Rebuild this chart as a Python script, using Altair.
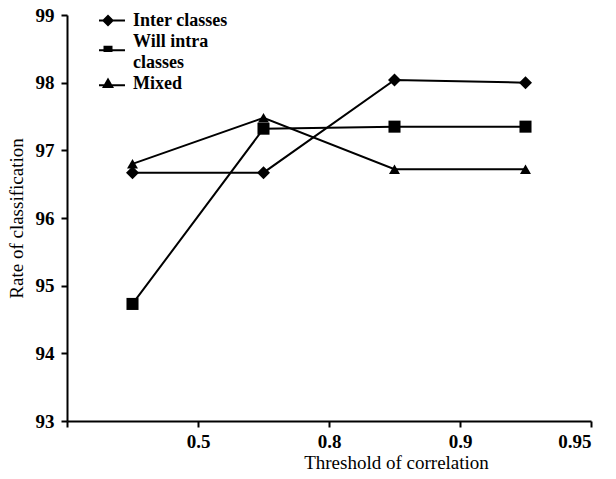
import altair as alt
import pandas as pd

# ---- data ----
thresholds = ["0.5", "0.8", "0.9", "0.95"]
series_names = ["Inter classes", "Will intra classes", "Mixed"]
inter_classes = [96.67, 96.67, 98.04, 98.00]
will_intra = [94.73, 97.32, 97.35, 97.35]
mixed = [96.80, 97.48, 96.72, 96.72]

# legend rows as printed in the reference (second name wraps onto two lines)
legend_entries = ["Inter classes", "Will intra", "\u00a0classes", "Mixed"]

rows = []
for name, vals in zip(series_names, [inter_classes, will_intra, mixed]):
    for i, (t, v) in enumerate(zip(thresholds, vals)):
        # markers sit in the middle of each category band, tick labels at band ends
        rows.append({"series": name, "threshold": t, "pos": i + 0.5, "rate": v})
df = pd.DataFrame(rows)
legend_df = pd.DataFrame({"entry": legend_entries})

n_cat = len(thresholds)
label_list = "['', " + ", ".join(f"'{t}'" for t in thresholds) + "]"

FONT = "Liberation Serif"

x_enc = alt.X(
    "pos:Q",
    scale=alt.Scale(domain=[0, n_cat], nice=False, zero=False),
    axis=alt.Axis(
        values=list(range(n_cat + 1)),
        labelExpr=f"{label_list}[datum.value]",
        title="Threshold of correlation",
        titleFont=FONT, titleFontSize=19, titleFontWeight="normal",
        titleX=329, titleY=47, titleBaseline="alphabetic",
        labelFont=FONT, labelFontSize=19, labelFontWeight="bold",
        labelColor="black", titleColor="black",
        domainColor="black", domainWidth=2, tickColor="black", tickWidth=2,
        tickSize=6, labelPadding=5, grid=False,
    ),
)
y_enc = alt.Y(
    "rate:Q",
    scale=alt.Scale(domain=[93, 99], nice=False, zero=False),
    axis=alt.Axis(
        values=[93, 94, 95, 96, 97, 98, 99],
        title="Rate of classification",
        titleFont=FONT, titleFontSize=19, titleFontWeight="normal",
        titlePadding=9,
        labelFont=FONT, labelFontSize=19, labelFontWeight="bold",
        labelColor="black", titleColor="black",
        domainColor="black", domainWidth=2, tickColor="black", tickWidth=2,
        tickSize=6, labelPadding=7, grid=False,
    ),
)

lines = alt.Chart(df).mark_line(color="black", strokeWidth=2).encode(
    x=x_enc, y=y_enc, detail="series:N", order="pos:Q"
)

points = alt.Chart(df).mark_point(filled=True, color="black", opacity=1).encode(
    x=x_enc, y=y_enc,
    shape=alt.Shape("series:N", scale=alt.Scale(domain=series_names,
                                                range=["diamond", "square", "triangle-up"]),
                    legend=None),
    size=alt.Size("series:N", scale=alt.Scale(domain=series_names, range=[170, 120, 150]),
                  legend=None),
)

# legend glyphs: a short filled bar with the marker on it (unit = 6 px)
BAR = "M-2.83,{a}L2.83,{a}L2.83,{b}L-2.83,{b}Z"
legend_paths = [
    BAR.format(a=-0.17, b=0.17) + "M0,-1L1,0L0,1L-1,0Z",
    BAR.format(a=1.28, b=1.62) + "M-0.75,0.7L0.75,0.7L0.75,2.2L-0.75,2.2Z",
    "M0,0",
    BAR.format(a=0.13, b=0.47) + "M0,-1L1,0.75L-1,0.75Z",
]

legend_layer = alt.Chart(legend_df).mark_point(
    filled=True, color="black", opacity=0
).encode(
    shape=alt.Shape(
        "entry:N",
        sort=legend_entries,
        scale=alt.Scale(domain=legend_entries, range=legend_paths),
        legend=alt.Legend(
            title=None, orient="none", legendX=32, legendY=-5, padding=0,
            symbolSize=144, symbolOpacity=1, symbolFillColor="black",
            symbolStrokeWidth=0,
            labelFont=FONT, labelFontSize=18, labelFontWeight="bold",
            labelColor="black", labelOffset=16,
            rowPadding=0, labelLimit=200, clipHeight=21,
        ),
    ),
)

chart = alt.layer(lines, points, legend_layer).resolve_scale(
    shape="independent", size="independent"
).properties(
    width=524, height=406,
    autosize=alt.AutoSizeParams(type="none"),
    padding={"left": 59, "top": 7, "right": 17, "bottom": 50},
    background="white",
).configure_view(stroke=None)

chart.save("out.html", embed_options={"renderer": "svg", "actions": False})
